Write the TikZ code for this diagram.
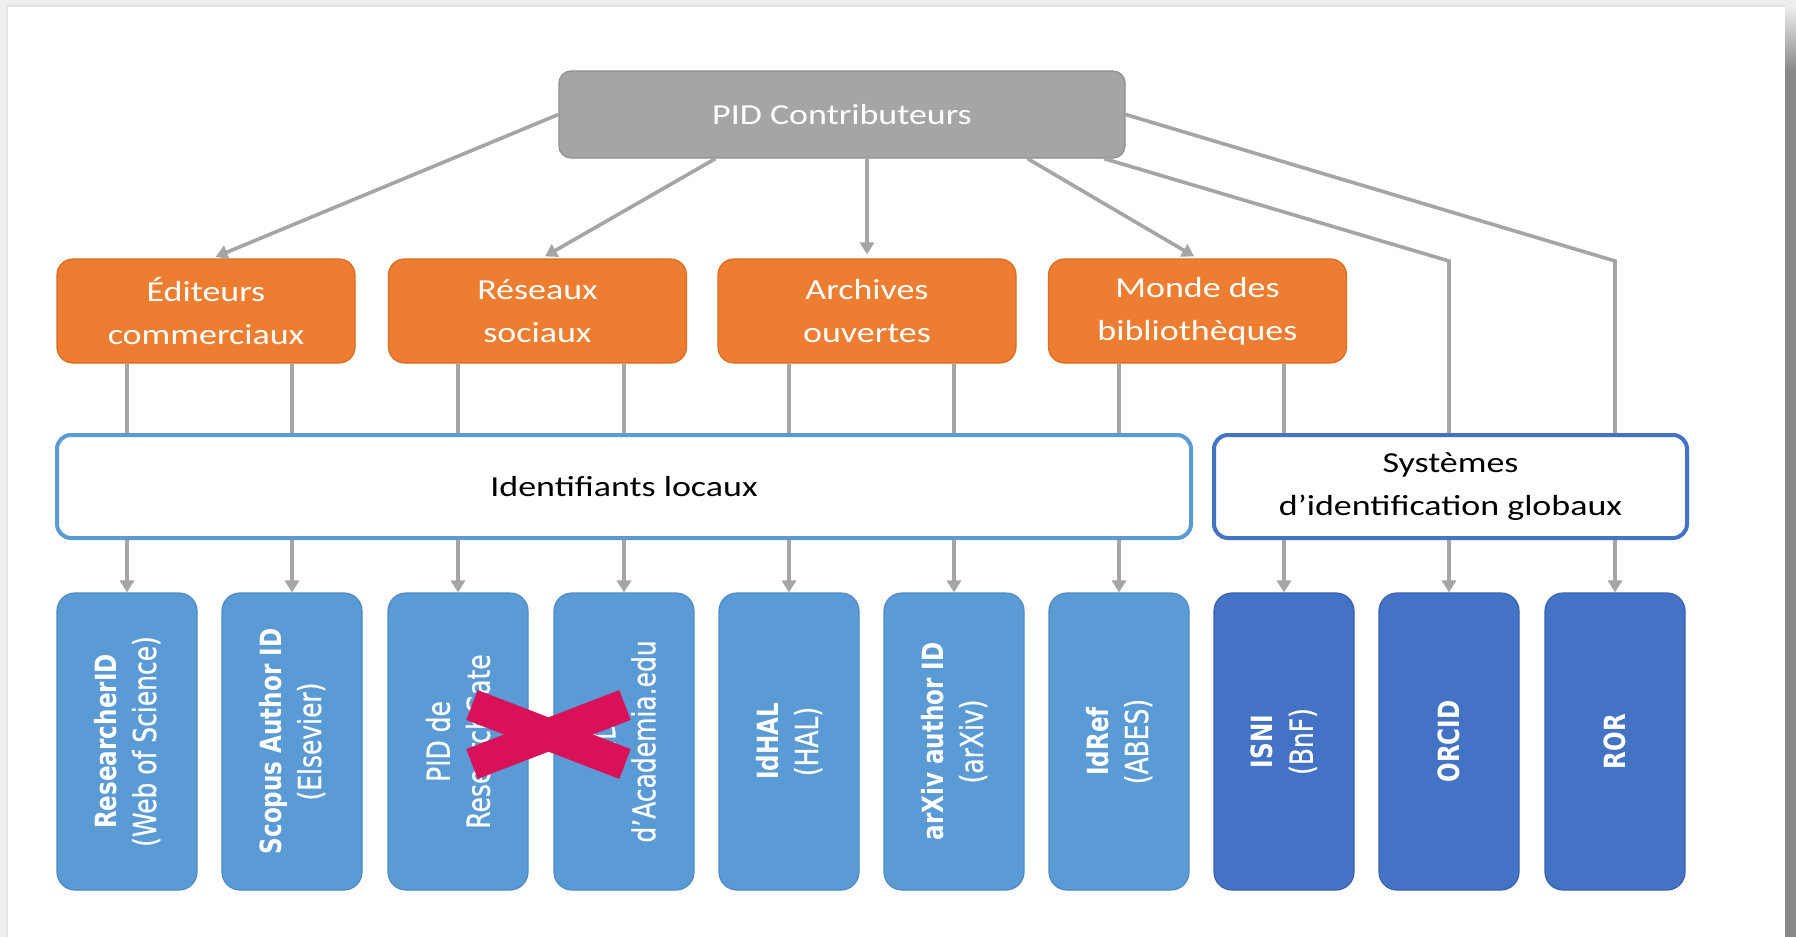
\documentclass[tikz,border=0pt]{standalone}
\usepackage{fontspec}
\newfontfamily\hfont[FakeStretch=1.24]{Carlito}
\newfontfamily\vfont[FakeStretch=0.79, UprightFeatures={FakeBold=0.6}]{DejaVu Sans}
\usetikzlibrary{arrows.meta,calc}
\definecolor{lngray}{HTML}{A5A5A5}
\definecolor{pidgray}{HTML}{A5A5A5}
\definecolor{pidgrayd}{HTML}{8E8E8E}
\definecolor{orfill}{HTML}{ED7D31}
\definecolor{ordraw}{HTML}{DA6C22}
\definecolor{lblue}{HTML}{5B9BD5}
\definecolor{lblued}{HTML}{4F8BC4}
\definecolor{dblue}{HTML}{4472C4}
\definecolor{dblued}{HTML}{3A63AE}
\definecolor{xred}{HTML}{D81159}
\definecolor{frame}{HTML}{EEEEEE}
\definecolor{framed}{HTML}{888888}
\newcommand{\boldlbl}[1]{{\bfseries\fontsize{14.6}{20}\selectfont #1}}
\begin{document}
\begin{tikzpicture}[x=0.5pt,y=0.5pt,
  ln/.style={draw=lngray, line width=1.8pt},
  arr/.style={ln, -{Triangle[width=7pt,length=6pt]}},
  hfnt/.style={font=\hfont\fontsize{14.5}{21.5}\selectfont},
  pidbox/.style={hfnt, rounded corners=6pt, fill=pidgray, draw=pidgrayd, line width=0.6pt,
    minimum width=283pt, minimum height=43.5pt, inner sep=0pt, text=white},
  orbox/.style={hfnt, rounded corners=8pt, fill=orfill, draw=ordraw, line width=0.6pt,
    minimum width=149pt, minimum height=52pt, inner sep=0pt, align=center, text=white},
  grpbox/.style={hfnt, rounded corners=7pt, fill=white, line width=2pt,
    minimum height=51.5pt, inner sep=0pt, align=center, text=black},
  idbox/.style={rounded corners=9pt, minimum width=70pt, minimum height=148.5pt,
    line width=0.6pt, inner sep=0pt},
  lidbox/.style={idbox, fill=lblue, draw=lblued},
  didbox/.style={idbox, fill=dblue, draw=dblued},
  vlabel/.style={rotate=90, align=center, text=white, inner sep=0pt,
    font=\vfont\fontsize{15.8}{20}\selectfont}
]
\useasboundingbox (0,0) rectangle (1796,-937);
% page frame
\fill[white] (0,0) rectangle (1796,-937);
\fill[frame] (0,0) rectangle (1796,-6);
\fill[frame] (0,0) rectangle (7,-937);
\draw[gray!25, line width=0.8pt] (7,-6) -- (1785,-6);
\draw[gray!20, line width=0.8pt] (7,-6) -- (7,-937);
\shade[top color=frame, bottom color=framed] (1785,-6) rectangle (1796,-70);
\fill[framed] (1785,-70) rectangle (1796,-937);

% top node
\node[pidbox] (pid) at (842,-114.5) {PID Contributeurs};

% category nodes
\node[orbox] (ed)  at (206,-311)    {Éditeurs\\commerciaux};
\node[orbox] (res) at (537.5,-311)  {Réseaux\\sociaux};
\node[orbox] (arc) at (867,-311)    {Archives\\ouvertes};
\node[orbox] (mon) at (1197.5,-311) {Monde des\\bibliothèques};

% group nodes
\node[grpbox, draw=lblue, minimum width=567pt] (loc) at (624,-486.5) {Identifiants locaux};
\node[grpbox, draw=dblue, minimum width=236.5pt] (sys) at (1450.5,-486.5) {Systèmes\\d’identification globaux};

% identifier boxes
\node[lidbox] (b1)  at (127,-741.5)  {};
\node[lidbox] (b2)  at (292,-741.5)  {};
\node[lidbox] (b3)  at (458,-741.5)  {};
\node[lidbox] (b4)  at (624,-741.5)  {};
\node[lidbox] (b5)  at (789,-741.5)  {};
\node[lidbox] (b6)  at (954,-741.5)  {};
\node[lidbox] (b7)  at (1119,-741.5) {};
\node[didbox] (b8)  at (1284,-741.5) {};
\node[didbox] (b9)  at (1449,-741.5) {};
\node[didbox] (b10) at (1615,-741.5) {};

\node[vlabel] (t1)  at (b1)  {\boldlbl{ResearcherID}\\(Web of Science)};
\node[vlabel] (t2)  at (b2)  {\boldlbl{Scopus Author ID}\\(Elsevier)};
\node[vlabel] (t3)  at (b3)  {PID de\\ResearchGate};
\node[vlabel] (t4)  at (b4)  {PID\\d’Academia.edu};
\node[vlabel] (t5)  at (b5)  {\boldlbl{IdHAL}\\(HAL)};
\node[vlabel] (t6)  at (b6)  {\boldlbl{arXiv author ID}\\(arXiv)};
\node[vlabel] (t7)  at (b7)  {\boldlbl{IdRef}\\(ABES)};
\node[vlabel] (t8)  at (b8)  {\boldlbl{ISNI}\\(BnF)};
\node[vlabel] (t9)  at (b9)  {\boldlbl{ORCID}};
\node[vlabel] (t10) at (b10) {\boldlbl{ROR}};

% connectors from top node
\coordinate (s2) at ($(pid.south west)!0.277!(pid.south east)$);
\coordinate (s4) at ($(pid.south west)!0.827!(pid.south east)$);
\coordinate (s5) at ($(pid.south west)!0.962!(pid.south east)$);
\coordinate (k5) at (1449,-261);
\coordinate (k6) at (1615,-261);
\draw[arr, shorten >=2pt] (pid.west) -- ([xshift=3pt]ed.north);
\draw[arr, shorten >=2pt] (s2) -- ([xshift=2pt]res.north);
\draw[arr, shorten >=2pt] (pid.south -| arc.north) -- (arc.north);
\draw[arr, shorten >=2pt] (s4) -- (mon.north);
\draw[ln] (s5) -- (k5) -- (k5 |- sys.north);
\draw[ln] (pid.east) -- (k6) -- (k6 |- sys.north);

% category -> groups
\draw[ln] (b1 |- ed.south) -- (b1 |- loc.north);
\draw[ln] (b2 |- ed.south) -- (b2 |- loc.north);
\draw[ln] (b3 |- res.south) -- (b3 |- loc.north);
\draw[ln] (b4 |- res.south) -- (b4 |- loc.north);
\draw[ln] (b5 |- arc.south) -- (b5 |- loc.north);
\draw[ln] (b6 |- arc.south) -- (b6 |- loc.north);
\draw[ln] (b7 |- mon.south) -- (b7 |- loc.north);
\draw[ln] (b8 |- mon.south) -- (b8 |- sys.north);

% groups -> identifiers
\foreach \i in {1,...,7} {\draw[arr] (b\i |- loc.south) -- (b\i.north);}
\foreach \i in {8,9,10} {\draw[arr] (b\i |- sys.south) -- (b\i.north);}

% red cross
\draw[xred, line width=16pt] (472,-705) -- (625,-764);
\draw[xred, line width=16pt] (472,-764) -- (625,-705);
\end{tikzpicture}
\end{document}
